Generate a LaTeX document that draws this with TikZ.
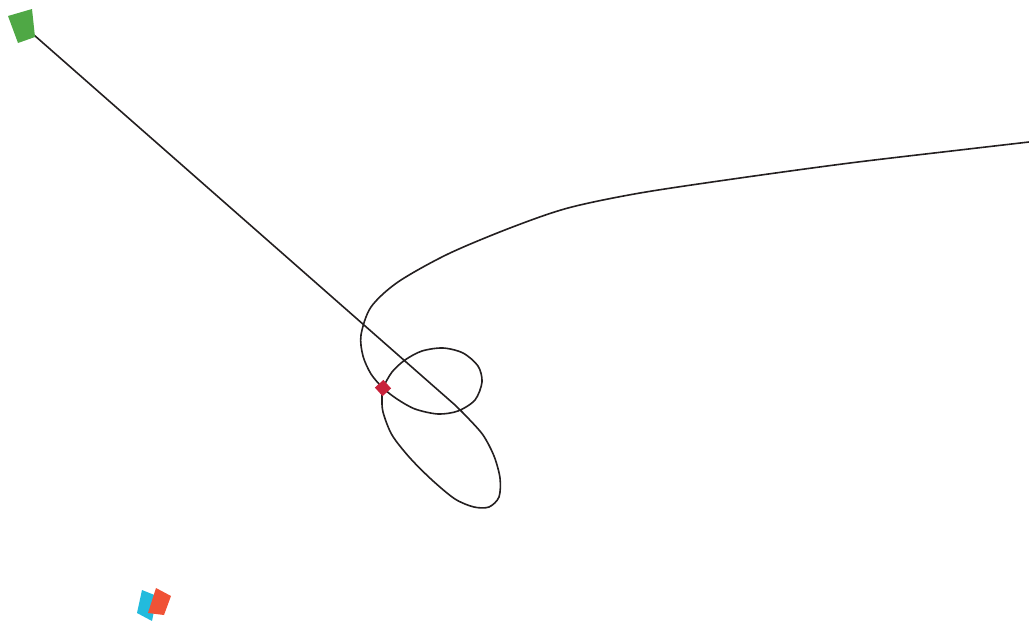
\documentclass[tikz,border=0pt]{standalone}
\usepackage{xcolor}
\usetikzlibrary{positioning}
\definecolor{flaggreen}{HTML}{4FA845}
\definecolor{crossred}{HTML}{C8213A}
\definecolor{cardcyan}{HTML}{22BBDD}
\definecolor{cardorange}{HTML}{F05236}
\definecolor{trackblack}{HTML}{231F20}

\begin{document}
\begin{tikzpicture}[
    x=1pt, y=-1pt,
    track/.style={draw=trackblack, line width=1.6pt, line join=round},
    crossmark/.style={rectangle, fill=crossred, minimum size=11.5pt,
        inner sep=0pt, rotate=42},
]
    \useasboundingbox (0,0) rectangle (1029,621);

    \coordinate (start) at (34,35);
    \coordinate (finish) at (1029,142);

    % trajectory
    \draw[track] (start) -- (455,405) -- plot[smooth] coordinates {
        (455,405) (467,417) (483,435) (494,456) (500,478) (499,497)
        (489,507) (474,507) (455,499) (432,480) (410,458) (392,435)
        (383,412) (382,397) (383,388) (392,372) (405,360) (422,351)
        (443,348) (463,353) (478,366) (482,382) (475,400) (458,411)
        (438,414) (415,409) (397,399) (383,388) (371,374) (363,356)
        (361,335) (371,307) (398,282) (448,254) (510,228) (568,208)
        (640,193) (740,178) (850,163) (960,150) (1029,142)} -- (finish);

    % markers
    \fill[flaggreen] (8,16) -- (32,9) -- (35,37) -- (18,43) -- cycle;
    \node[crossmark] (cross) at (383,388) {};
    \fill[cardcyan] (142,590) -- (157,596) -- (152,621) -- (137,613) -- cycle;
    \fill[cardorange] (156,588) -- (171,596) -- (164,615) -- (148,613) -- cycle;
\end{tikzpicture}
\end{document}
